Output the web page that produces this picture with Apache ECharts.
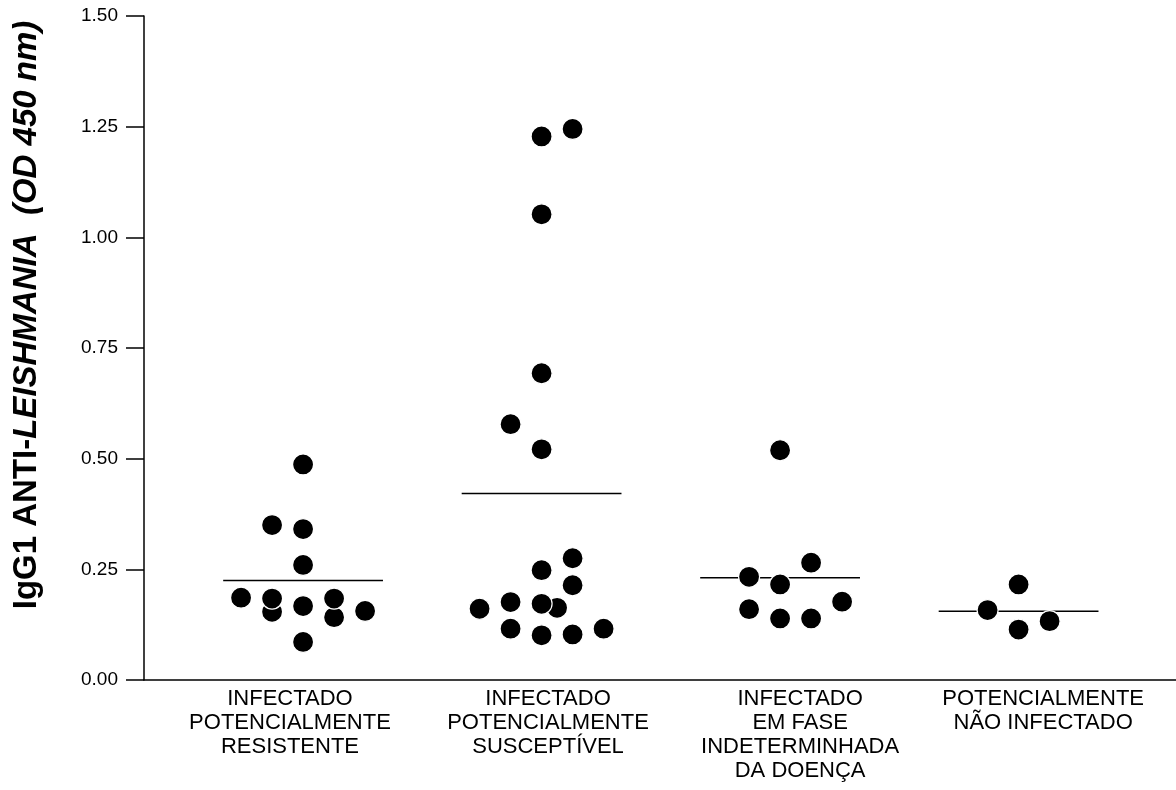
<!DOCTYPE html>
<html>
<head>
<meta charset="utf-8">
<script src="https://cdn.jsdelivr.net/npm/echarts@6/dist/echarts.min.js"></script>
<style>
html,body{margin:0;padding:0;background:#fff;}
#chart{width:1176px;height:790px;}
</style>
</head>
<body>
<div id="chart"></div>
<script>
// Category labels
const categories = [
  'INFECTADO\nPOTENCIALMENTE\nRESISTENTE',
  'INFECTADO\nPOTENCIALMENTE\nSUSCEPTÍVEL',
  'INFECTADO\nEM FASE\nINDETERMINHADA\nDA DOENÇA',
  'POTENCIALMENTE\nNÃO INFECTADO'
];
// Y tick values
const yTicks = [0, 0.25, 0.5, 0.75, 1.0, 1.25, 1.5];

// Values per group (OD 450 nm) and their column slot in the dot plot
const g1Values = [0.487, 0.350, 0.341, 0.260, 0.186, 0.154, 0.184, 0.167, 0.142, 0.184, 0.156, 0.086];
const g1Cols   = [0,     -1,    0,     0,     -2,    -1,    -1,    0,     1,     1,     2,     0];

const g2Values = [1.228, 1.245, 1.052, 0.693, 0.578, 0.521, 0.161, 0.176, 0.248, 0.275, 0.214, 0.163, 0.172, 0.116, 0.101, 0.103, 0.116];
const g2Cols   = [0,     1,     0,     0,     -1,    0,     -2,    -1,    0,     1,     1,     0.5,   0,     -1,    0,     1,     2];

const g3Values = [0.519, 0.265, 0.233, 0.216, 0.177, 0.160, 0.139, 0.139];
const g3Cols   = [0,     1,     -1,    0,     2,     -1,    0,     1];

const g4Values = [0.216, 0.158, 0.114, 0.133];
const g4Cols   = [0,     -1,    0,     1];

const groups = [
  {values: g1Values, cols: g1Cols},
  {values: g2Values, cols: g2Cols},
  {values: g3Values, cols: g3Cols},
  {values: g4Values, cols: g4Cols}
];

const COL_STEP = 0.13;
const HALF_MEAN = 0.335;
const FONT = '"Liberation Sans", Arial, Helvetica, sans-serif';

const series = [];
groups.forEach(function (g, gi) {
  const mean = g.values.reduce(function (a, b) { return a + b; }, 0) / g.values.length;
  series.push({
    type: 'line',
    data: [[gi - HALF_MEAN, mean], [gi + HALF_MEAN, mean]],
    symbol: 'none',
    lineStyle: {color: '#000', width: 1.5},
    silent: true,
    z: 1
  });
});
groups.forEach(function (g, gi) {
  series.push({
    type: 'scatter',
    data: g.values.map(function (v, i) { return [gi + g.cols[i] * COL_STEP, v]; }),
    symbol: 'circle',
    symbolSize: 21,
    itemStyle: {color: '#000', borderColor: '#fff', borderWidth: 1.2, opacity: 1},
    z: 3
  });
});

const chart = echarts.init(document.getElementById('chart'), null, {renderer: 'canvas'});
chart.setOption({
  animation: false,
  backgroundColor: '#fff',
  grid: {left: 144, right: 0, top: 16, bottom: 110, containLabel: false},
  xAxis: {
    type: 'value',
    min: -0.667,
    max: 3.66,
    splitLine: {show: false},
    axisTick: {show: false},
    axisLine: {show: true, onZero: false, lineStyle: {color: '#000', width: 1.5}},
    axisLabel: {
      customValues: [-0.055, 1.027, 2.084, 3.103],
      formatter: function (v) { return categories[Math.round(v)]; },
      color: '#000',
      fontFamily: FONT,
      fontSize: 22,
      lineHeight: 24,
      align: 'center',
      margin: 7
    }
  },
  yAxis: {
    type: 'value',
    min: yTicks[0],
    max: yTicks[yTicks.length - 1],
    interval: 0.25,
    splitLine: {show: false},
    axisLine: {show: true, onZero: false, lineStyle: {color: '#000', width: 1.5}},
    axisTick: {show: true, length: 18, lineStyle: {color: '#000', width: 1.5}},
    axisLabel: {
      color: '#000',
      fontFamily: FONT,
      fontSize: 19,
      margin: 26,
      formatter: function (v) { return v.toFixed(2); }
    }
  },
  graphic: [{
    type: 'text',
    x: 27,
    y: 315,
    rotation: Math.PI / 2,
    style: {
      text: '{b|IgG1 ANTI-}{bi|LEISHMANIA  (OD 450 nm)}',
      align: 'center',
      verticalAlign: 'middle',
      fill: '#000',
      rich: {
        b: {fontFamily: FONT, fontSize: 33, fontWeight: 'bold', fill: '#000', color: '#000'},
        bi: {fontFamily: FONT, fontSize: 33, fontWeight: 'bold', fontStyle: 'italic', fill: '#000', color: '#000'}
      }
    }
  }],
  series: series
});
</script>
</body>
</html>
